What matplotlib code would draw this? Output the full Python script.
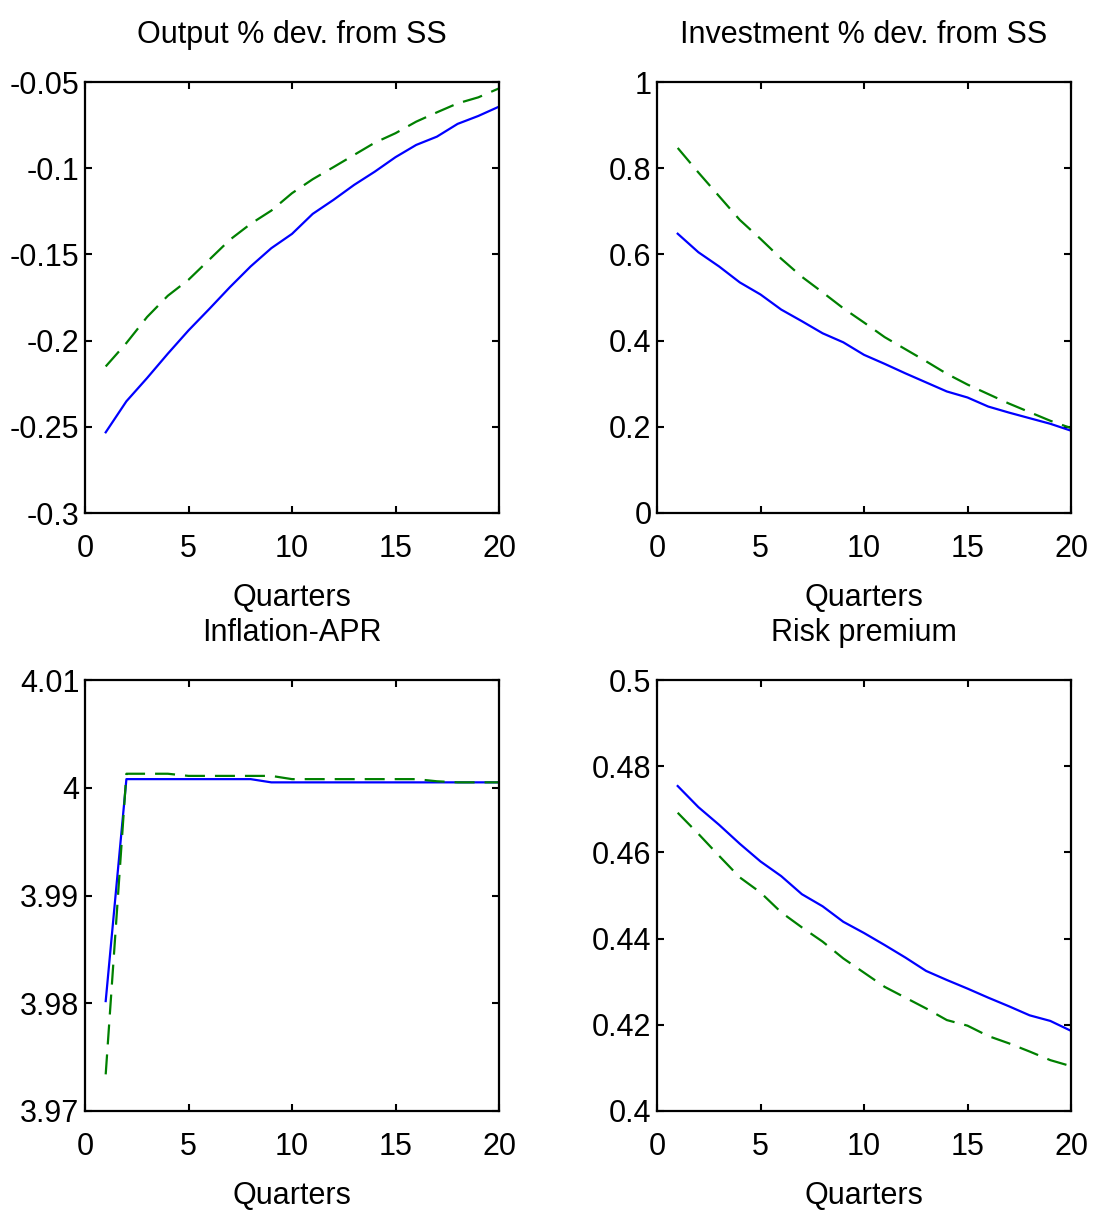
import numpy as np
import matplotlib
matplotlib.use("Agg")
from matplotlib import pyplot as plt
from matplotlib.ticker import FormatStrFormatter

plt.rcParams['font.family'] = ['Liberation Sans', 'DejaVu Sans']
plt.rcParams['axes.unicode_minus'] = False

quarters = np.arange(1, 21)

output_solid = [-0.2532, -0.2352, -0.2217, -0.2076, -0.1941, -0.1817, -0.1690, -0.1570, -0.1464, -0.1381,
                -0.1265, -0.1184, -0.1097, -0.1020, -0.0936, -0.0865, -0.0817, -0.0743, -0.0697, -0.0643]
output_dash = [-0.2150, -0.2014, -0.1863, -0.1740, -0.1647, -0.1531, -0.1415, -0.1323, -0.1246, -0.1145,
               -0.1064, -0.0994, -0.0923, -0.0852, -0.0797, -0.0730, -0.0676, -0.0624, -0.0589, -0.0537]

invest_solid = [0.648, 0.605, 0.572, 0.535, 0.507, 0.472, 0.445, 0.417, 0.396, 0.367,
                0.346, 0.324, 0.303, 0.282, 0.268, 0.247, 0.233, 0.220, 0.207, 0.191]
invest_dash = [0.847, 0.790, 0.735, 0.680, 0.636, 0.590, 0.548, 0.512, 0.475, 0.442,
               0.408, 0.380, 0.352, 0.323, 0.298, 0.276, 0.254, 0.234, 0.214, 0.197]

infl_solid = [3.9802, 4.0008, 4.0008, 4.0008, 4.0008, 4.0008, 4.0008, 4.0008, 4.0005, 4.0005,
              4.0005, 4.0005, 4.0005, 4.0005, 4.0005, 4.0005, 4.0005, 4.0005, 4.0005, 4.0005]
infl_dash = [3.9734, 4.0013, 4.0013, 4.0013, 4.0011, 4.0011, 4.0011, 4.0011, 4.0011, 4.0008,
             4.0008, 4.0008, 4.0008, 4.0008, 4.0008, 4.0008, 4.0006, 4.0005, 4.0005, 4.0005]

risk_solid = [0.4754, 0.4705, 0.4664, 0.4620, 0.4579, 0.4545, 0.4503, 0.4475, 0.4439, 0.4413,
              0.4385, 0.4356, 0.4325, 0.4304, 0.4284, 0.4263, 0.4243, 0.4222, 0.4209, 0.4186]
risk_dash = [0.4692, 0.4643, 0.4592, 0.4542, 0.4507, 0.4461, 0.4426, 0.4393, 0.4354, 0.4321,
             0.4288, 0.4263, 0.4238, 0.4211, 0.4198, 0.4174, 0.4157, 0.4138, 0.4118, 0.4104]

titles = ["Output % dev. from SS", "Investment % dev. from SS", "Inflation-APR", "Risk premium"]
ylims = [(-0.3, -0.05), (0, 1), (3.97, 4.01), (0.4, 0.5)]
yticks = [[-0.3, -0.25, -0.2, -0.15, -0.1, -0.05],
          [0, 0.2, 0.4, 0.6, 0.8, 1],
          [3.97, 3.98, 3.99, 4.0, 4.01],
          [0.4, 0.42, 0.44, 0.46, 0.48, 0.5]]
xticks = [0, 5, 10, 15, 20]
solid = [output_solid, invest_solid, infl_solid, risk_solid]
dashed = [output_dash, invest_dash, infl_dash, risk_dash]

W, H = 1093, 1211
fig = plt.figure(figsize=(W / 100, H / 100), dpi=100)
lefts = [85, 657]
tops = [82, 680]
aw, ah = 414, 431

fs = 22
for i in range(4):
    r, c = divmod(i, 2)
    ax = fig.add_axes([lefts[c] / W, 1 - (tops[r] + ah) / H, aw / W, ah / H])
    ax.plot(quarters, solid[i], color=(0, 0, 1), lw=1.6)
    ax.plot(quarters, dashed[i], color=(0, 0.5, 0), lw=1.6, dashes=(9, 4.5))
    ax.set_xlim(0, 20)
    ax.set_ylim(*ylims[i])
    ax.set_xticks(xticks)
    ax.set_yticks(yticks[i])
    ax.yaxis.set_major_formatter(FormatStrFormatter('%g'))
    ax.tick_params(direction='in', top=True, right=True, length=5, width=1.5,
                   labelsize=fs, pad=4)
    ax.tick_params(axis='x', pad=15)
    for s in ax.spines.values():
        s.set_linewidth(1.6)
    ax.set_title(titles[i], fontsize=fs, pad=28)
    ax.set_xlabel("Quarters", fontsize=fs, labelpad=14)

fig.savefig("out.png", dpi=100)
